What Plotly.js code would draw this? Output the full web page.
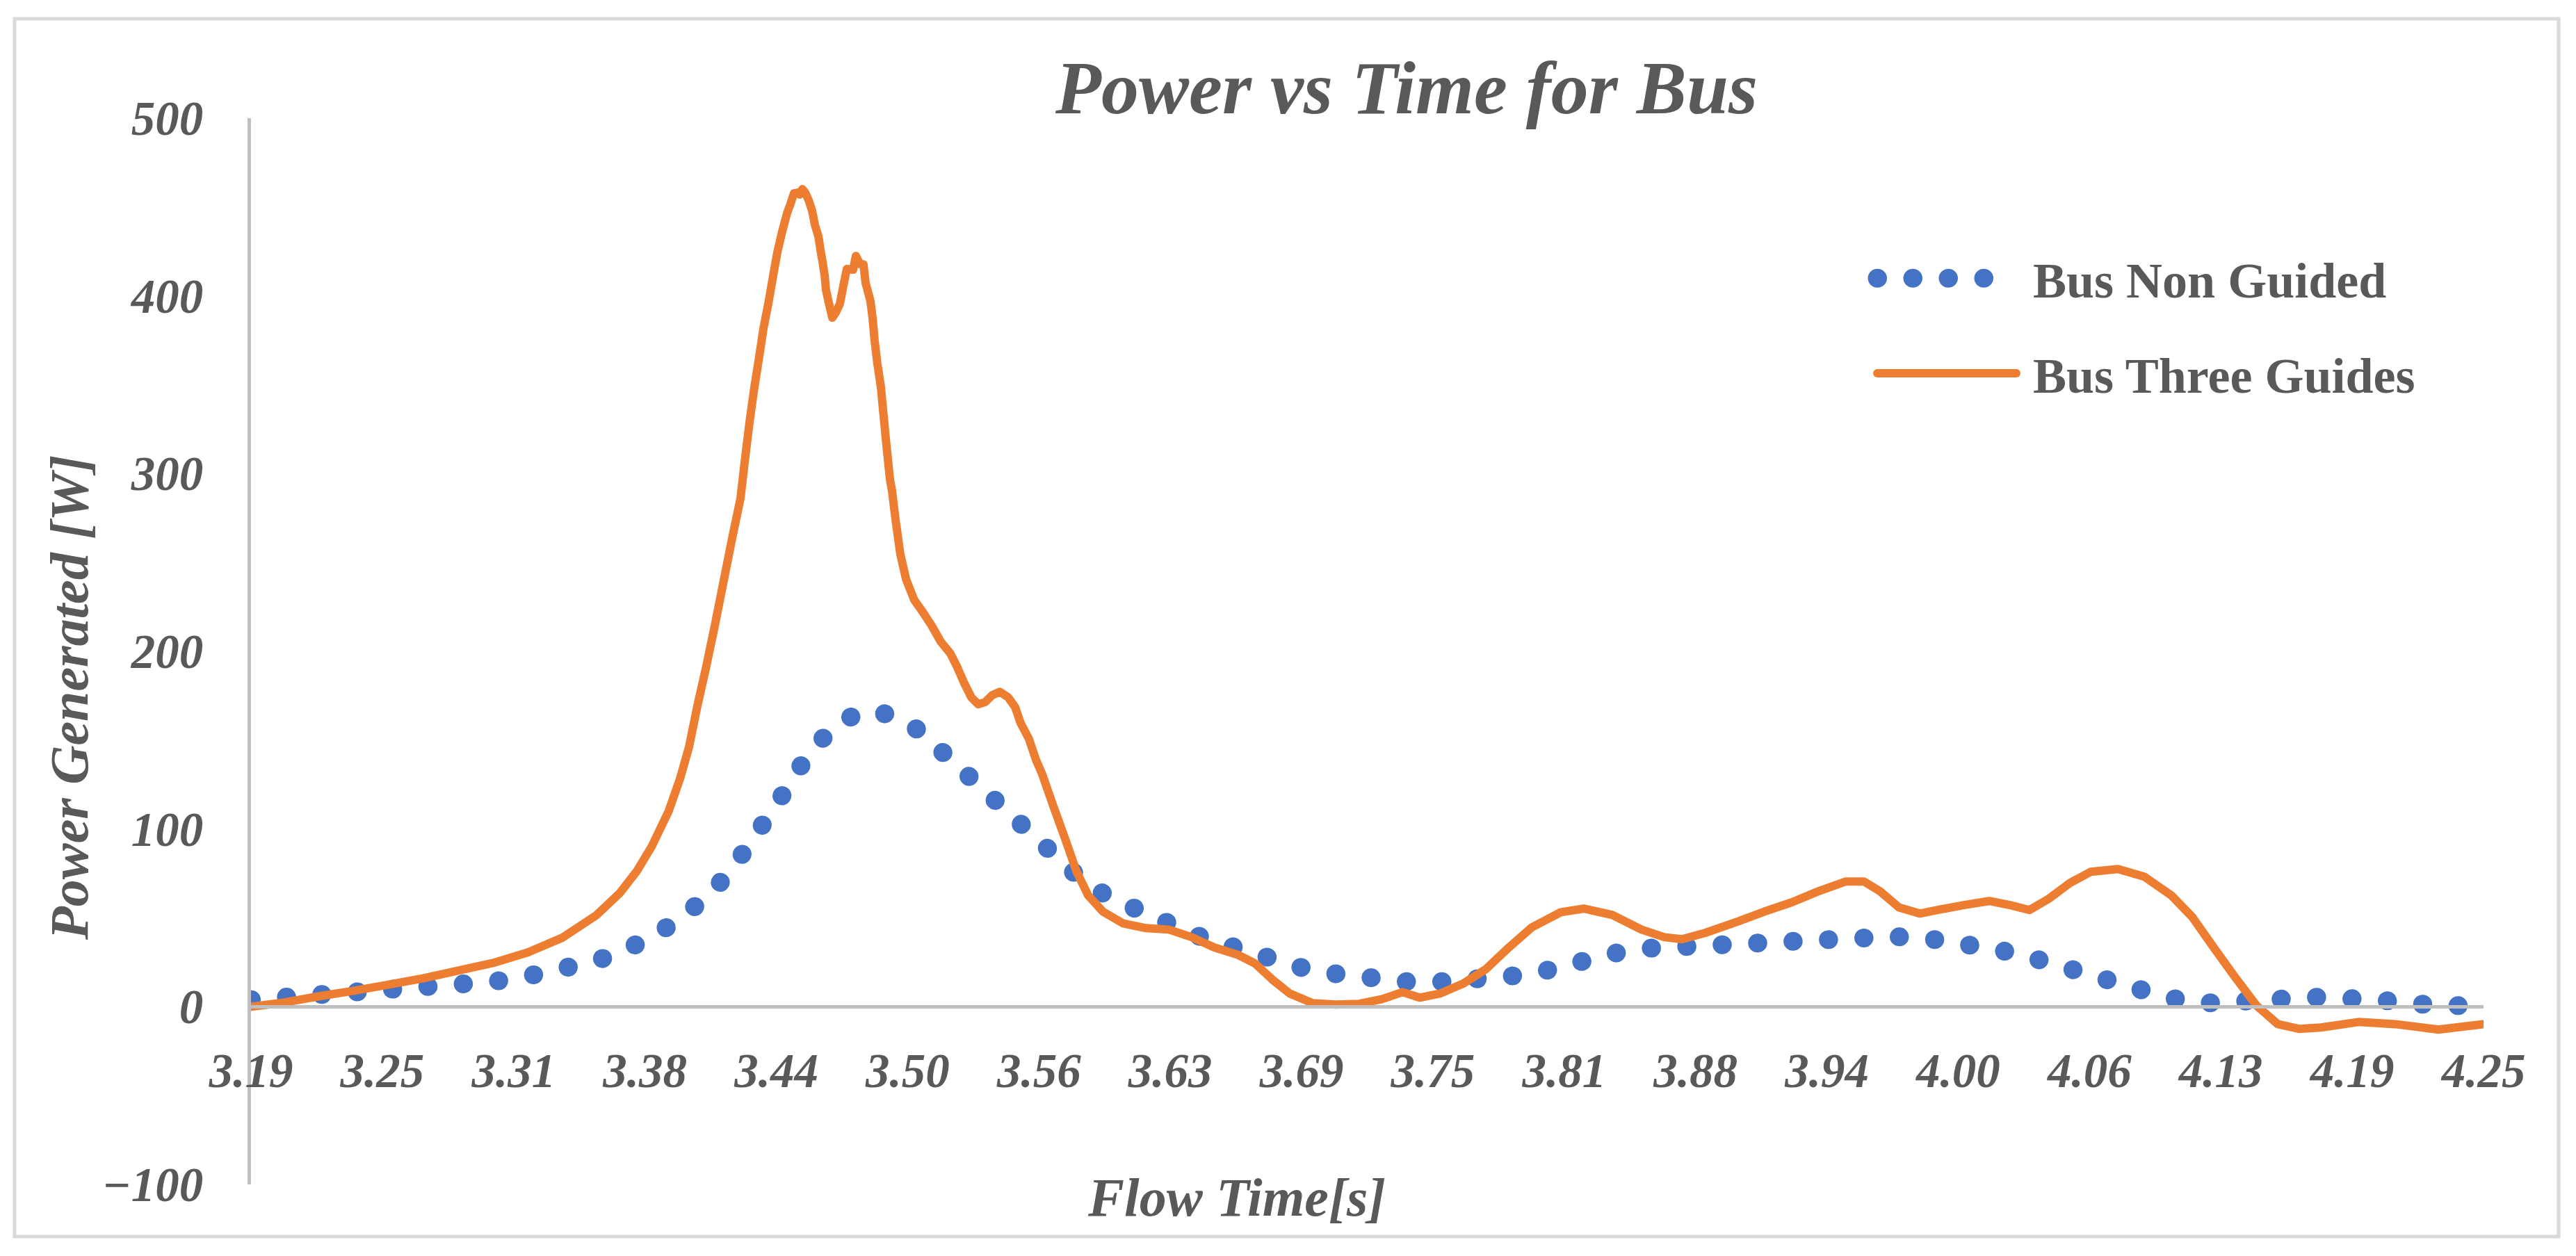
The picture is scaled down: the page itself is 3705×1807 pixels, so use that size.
<!DOCTYPE html>
<html>
<head>
<meta charset="utf-8">
<script src="https://cdn.plot.ly/plotly-3.0.1.min.js"></script>
<style>
  html, body { margin: 0; padding: 0; background: #ffffff; }
  #chart .js-line { stroke-linecap: round; stroke-linejoin: round; }
  #chart .legend path.js-line[style*="68, 114, 196"] { stroke-width: 27px !important; }
  #chart .legend path.js-line[style*="237, 125, 49"] { stroke-width: 12px !important; }
  #chart .legend .legendtext { transform: translate(19px, 0px); }
  #chart .legend .scrollbox, #chart .legend [clip-path] { clip-path: none !important; }
</style>
</head>
<body>
<div id="chart" style="width:3705px;height:1807px;"></div>
<script>
// ---------------- data ----------------
const chartTitle = "Power vs Time for Bus";
const xAxisTitle = "Flow Time[s]";
const yAxisTitle = "Power Generated [W]";
const seriesNames = ["Bus Non Guided", "Bus Three Guides"];

const xTickLabels = ["3.19","3.25","3.31","3.38","3.44","3.50","3.56","3.63","3.69",
                     "3.75","3.81","3.88","3.94","4.00","4.06","4.13","4.19","4.25"];
const yTickValues = [-100, 0, 100, 200, 300, 400, 500];

// Bus Non Guided (blue, round-dot line)
const nonGuidedTime = [3.1900,3.2055,3.2224,3.2389,3.2557,3.2719,3.2884,3.3049,3.3214,3.3376,
  3.3541,3.3693,3.3841,3.3980,3.4102,3.4211,3.4310,3.4402,3.4488,3.4584,
  3.4703,3.4825,3.4934,3.5046,3.5148,3.5254,3.5363,3.5465,3.5587,3.5706,
  3.5828,3.5964,3.6112,3.6258,3.6413,3.6568,3.6730,3.6891,3.7057,3.7222,
  3.7387,3.7555,3.7720,3.7882,3.8047,3.8209,3.8374,3.8539,3.8700,3.8866,
  3.9034,3.9199,3.9367,3.9536,3.9701,3.9866,4.0031,4.0196,4.0361,4.0519,
  4.0678,4.0840,4.1001,4.1167,4.1335,4.1500,4.1668,4.1837,4.2002,4.2170,
  4.2335,4.2500];
const nonGuidedPower = [3.9,5.0,6.3,7.4,8.6,9.8,11.7,14.1,17.2,20.3,
  25.8,32.9,41.9,53.6,66.1,82.2,98.2,115.0,131.8,147.5,
  160.8,166.7,164.3,157.7,147.1,135.4,123.6,110.3,97.4,84.9,
  73.2,62.2,53.6,46.9,39.1,32.9,26.6,21.9,18.4,15.6,
  14.1,14.1,14.5,17.2,20.3,25.8,30.1,32.9,34.0,35.2,
  37.2,38.3,39.5,39.5,39.5,38.3,35.6,32.1,27.4,21.9,
  16.0,10.2,5.1,2.0,2.0,3.9,5.5,5.5,3.9,1.6,
  0.0,0.0];

// Bus Three Guides (orange, solid line)
const threeGuidesTime = [3.1900,3.2055,3.2224,3.2389,3.2557,3.2719,3.2884,3.3049,3.3214,3.3376,
  3.3541,3.3650,3.3732,3.3802,3.3884,3.3937,3.3980,3.4019,3.4062,3.4102,
  3.4184,3.4224,3.4247,3.4267,3.4290,3.4313,3.4333,3.4356,3.4379,3.4399,
  3.4422,3.4445,3.4462,3.4478,3.4495,3.4505,3.4518,3.4531,3.4548,3.4564,
  3.4577,3.4594,3.4604,3.4614,3.4624,3.4630,3.4643,3.4660,3.4676,3.4696,
  3.4713,3.4729,3.4759,3.4772,3.4792,3.4808,3.4818,3.4841,3.4851,3.4861,
  3.4874,3.4891,3.4901,3.4917,3.4934,3.4944,3.4960,3.4983,3.5010,3.5049,
  3.5089,3.5132,3.5175,3.5221,3.5254,3.5287,3.5320,3.5353,3.5386,3.5419,
  3.5455,3.5495,3.5528,3.5554,3.5594,3.5627,3.5657,3.5710,3.5766,3.5819,
  3.5875,3.5944,3.6040,3.6149,3.6258,3.6367,3.6475,3.6584,3.6667,3.6749,
  3.6832,3.6941,3.7050,3.7162,3.7271,3.7367,3.7449,3.7545,3.7654,3.7763,
  3.7872,3.7981,3.8119,3.8228,3.8364,3.8502,3.8611,3.8694,3.8803,3.8961,
  3.9087,3.9215,3.9341,3.9470,3.9559,3.9635,3.9724,3.9823,3.9925,4.0028,
  4.0153,4.0255,4.0344,4.0434,4.0536,4.0635,4.0764,4.0889,4.1018,4.1117,
  4.1219,4.1322,4.1424,4.1523,4.1625,4.1728,4.1906,4.2081,4.2286,4.2500];
const threeGuidesPower = [0.0,2.3,5.9,9.0,12.5,16.0,20.3,24.6,30.5,38.7,
  51.6,63.8,76.3,90.0,110.3,128.3,146.3,169.0,191.7,214.4,
  263.3,286.0,309.5,329.0,348.6,365.8,381.5,395.5,411.2,424.5,
  436.2,446.4,451.9,457.7,458.1,457.0,460.1,458.1,453.8,448.0,
  440.1,433.5,425.7,419.0,411.2,403.4,396.3,387.7,390.5,395.5,
  406.0,415.1,414.7,422.5,417.8,417.8,407.3,397.1,387.7,374.8,
  361.9,348.6,335.7,316.1,296.6,290.0,274.3,254.7,240.6,228.9,
  222.2,214.4,205.4,198.7,190.9,181.9,174.1,170.2,171.4,175.3,
  177.2,174.1,168.6,159.6,150.6,138.9,130.7,112.7,94.3,76.3,
  62.6,53.6,46.9,44.2,43.4,39.1,33.3,29.3,24.3,15.3,
  7.4,2.0,1.2,1.6,4.3,8.2,5.1,7.4,12.9,21.1,
  33.3,44.6,53.2,55.2,51.6,43.4,39.1,38.0,41.5,48.0,
  53.6,58.7,64.9,70.4,70.4,64.9,55.9,52.4,54.8,57.1,
  59.5,57.1,54.4,60.6,69.6,75.9,77.5,73.2,62.6,50.5,
  33.3,16.4,0.4,-9.8,-12.5,-11.7,-8.6,-9.8,-12.9,-9.8];

// ---------------- styling ----------------
const textColor = "#595959";
const axisColor = "#bfbfbf";
const serif = "'Liberation Serif', 'Times New Roman', Times, serif";

const xStart = parseFloat(xTickLabels[0]);
const xEnd = parseFloat(xTickLabels[xTickLabels.length - 1]);
const xTickVals = xTickLabels.map((_, i) => xStart + i * (xEnd - xStart) / (xTickLabels.length - 1));
const yMin = yTickValues[0], yMax = yTickValues[yTickValues.length - 1];
const zeroFrac = (0 - yMin) / (yMax - yMin);

const traces = [
  {
    x: nonGuidedTime, y: nonGuidedPower, name: seriesNames[0],
    type: "scatter", mode: "lines", legendgroup: "a",
    line: { color: "#4472C4", width: 27, dash: "0.5px,50.5px" },
    hoverinfo: "skip"
  },
  {
    x: threeGuidesTime, y: threeGuidesPower, name: seriesNames[1],
    type: "scatter", mode: "lines", legendgroup: "b",
    line: { color: "#ED7D31", width: 12, simplify: false },
    hoverinfo: "skip"
  }
];

const tickFont = { family: serif, size: 69, color: textColor, weight: "bold", style: "italic" };

const layout = {
  width: 3705, height: 1807,
  paper_bgcolor: "#ffffff", plot_bgcolor: "#ffffff",
  margin: { l: 361, r: 133, t: 170, b: 103, pad: 0 },
  title: {
    text: chartTitle,
    font: { family: serif, size: 108, color: textColor, weight: "bold", style: "italic" },
    xref: "container", yref: "container",
    x: 2023 / 3705, xanchor: "center",
    y: 1 - 125 / 1807, yanchor: "middle"
  },
  xaxis: {
    range: [xStart, xEnd],
    anchor: "free", position: zeroFrac,
    showline: true, linecolor: axisColor, linewidth: 5,
    showgrid: false, zeroline: false, ticks: "",
    tickmode: "array", tickvals: xTickVals, ticktext: xTickLabels,
    tickfont: tickFont, ticklabelstandoff: 30,
    fixedrange: true
  },
  yaxis: {
    range: [yMin, yMax],
    showline: true, linecolor: axisColor, linewidth: 5,
    showgrid: false, zeroline: false, ticks: "",
    tickmode: "array", tickvals: yTickValues,
    tickfont: tickFont, ticklabelstandoff: 50,
    fixedrange: true
  },
  showlegend: true,
  legend: {
    x: (2695 - 361) / 3211, xanchor: "left",
    y: (1704 - 347) / 1534, yanchor: "top",
    bgcolor: "rgba(0,0,0,0)", borderwidth: 0,
    itemwidth: 200, tracegroupgap: 40,
    font: { family: serif, size: 72, color: textColor, weight: "bold" }
  },
  annotations: [
    {
      text: xAxisTitle, xref: "paper", yref: "paper",
      x: (1778 - 361) / 3211, y: (1704 - 1722) / 1534,
      xanchor: "center", yanchor: "middle", showarrow: false,
      font: { family: serif, size: 78, color: textColor, weight: "bold", style: "italic" }
    },
    {
      text: yAxisTitle, xref: "paper", yref: "paper",
      x: (99 - 361) / 3211, y: (1704 - 1004) / 1534,
      xanchor: "center", yanchor: "middle", showarrow: false, textangle: -90,
      font: { family: serif, size: 78, color: textColor, weight: "bold", style: "italic" }
    }
  ],
  shapes: [
    {
      type: "rect", xref: "paper", yref: "paper", layer: "below",
      x0: (21 - 361) / 3211, x1: (3680 - 361) / 3211,
      y0: (1704 - 1779) / 1534, y1: (1704 - 27) / 1534,
      line: { color: "#d9d9d9", width: 5 }, fillcolor: "rgba(0,0,0,0)"
    }
  ]
};

Plotly.newPlot("chart", traces, layout, { displayModeBar: false, staticPlot: true });
</script>
</body>
</html>
